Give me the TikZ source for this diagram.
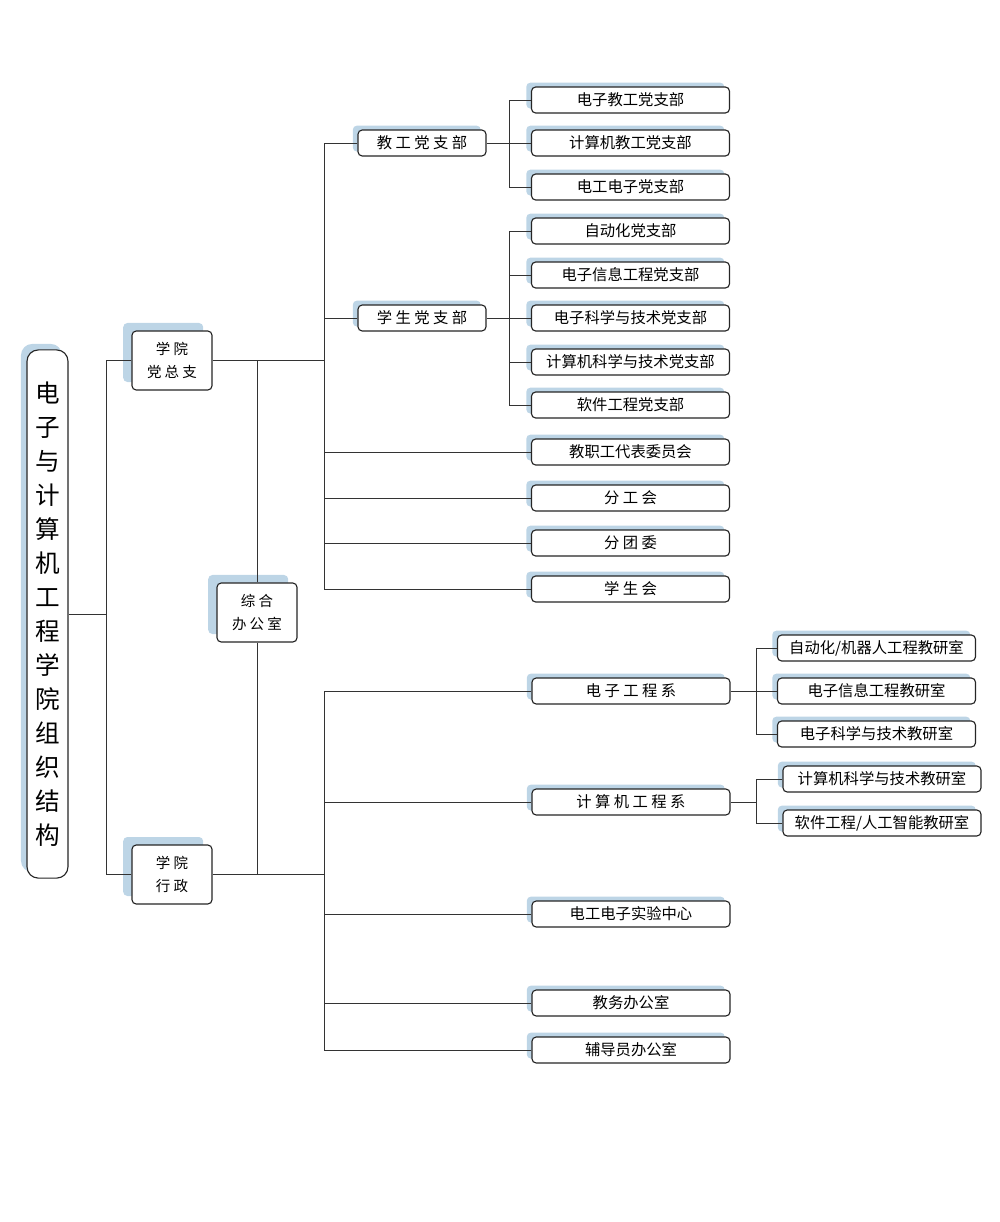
\documentclass[tikz,border=0pt]{standalone}
\usepackage{fontspec}
\setmainfont{Noto Sans CJK SC}
\usetikzlibrary{shadows}
\definecolor{shadeblue}{RGB}{189,213,230}
\definecolor{linegray}{RGB}{51,51,51}
\tikzset{
	base/.style={draw=black!85, line width=0.8pt, rounded corners=3pt, fill=white, inner sep=0pt},
	box/.style={base, minimum width=4.95cm, minimum height=0.65cm, font=\fontsize{10.9}{13}\selectfont,
		general shadow={shadow xshift=-0.13cm, shadow yshift=0.11cm, fill=shadeblue}},
	midbox/.style={box, minimum width=3.2cm},
	tallbox/.style={base, minimum width=2cm, minimum height=1.475cm, align=center, font=\fontsize{10.3}{16.5}\selectfont,
		general shadow={shadow xshift=-0.22cm, shadow yshift=0.2cm, fill=shadeblue}},
	link/.style={draw=linegray, line width=0.7pt}
}
\begin{document}
\begin{tikzpicture}[x=0.025cm, y=-0.025cm]
	\useasboundingbox (0,0) rectangle (999,1222);
	% title
	\node [base, minimum width=1.025cm, minimum height=13.2cm, rounded corners=8pt, align=center,
		font=\fontsize{17.5}{24.2}\selectfont,
		general shadow={shadow xshift=-0.15cm, shadow yshift=0.15cm, fill=shadeblue}] (title) at (47.5,614)
		{电\\子\\与\\计\\算\\机\\工\\程\\学\\院\\组\\织\\结\\构};
	% second column
	\node [tallbox] (dzz) at (172,360.5) {学 院\\党 总 支};
	\node [tallbox] (zh) at (257,612.5) {综 合\\办 公 室};
	\node [tallbox] (xz) at (172,874.5) {学 院\\行 政};
	% party branches
	\node [midbox] (jgdzb) at (422,143) {教 工 党 支 部};
	\node [midbox] (xsdzb) at (422,318) {学 生 党 支 部};
	\node [box] (dzjg) at (630.5,100) {电子教工党支部};
	\node [box] (jsjjg) at (630.5,143) {计算机教工党支部};
	\node [box] (dgdzdzb) at (630.5,187) {电工电子党支部};
	\node [box] (zdh) at (630.5,231) {自动化党支部};
	\node [box] (dzxx) at (630.5,275) {电子信息工程党支部};
	\node [box] (dzkx) at (630.5,318) {电子科学与技术党支部};
	\node [box] (jsjkx) at (630.5,362) {计算机科学与技术党支部};
	\node [box] (rjgc) at (630.5,405) {软件工程党支部};
	\node [box] (jzdb) at (630.5,452) {教职工代表委员会};
	\node [box] (fgh) at (630.5,498) {分 工 会};
	\node [box] (ftw) at (630.5,543) {分 团 委};
	\node [box] (xsh) at (630.5,589) {学 生 会};
	% administration
	\node [box] (dzgcx) at (631,691) {电 子 工 程 系};
	\node [box] (jsjgcx) at (631,802) {计 算 机 工 程 系};
	\node [box] (dgsy) at (631,914) {电工电子实验中心};
	\node [box] (jwbgs) at (631,1003) {教务办公室};
	\node [box] (fdy) at (631,1050) {辅导员办公室};
	\node [box] (zdhjys) at (876.5,648) {自动化/机器人工程教研室};
	\node [box] (dzxxjys) at (876.5,691) {电子信息工程教研室};
	\node [box] (dzkxjys) at (876.5,734) {电子科学与技术教研室};
	\node [box] (jsjkxjys) at (882,779) {计算机科学与技术教研室};
	\node [box] (rjjys) at (882,823) {软件工程/人工智能教研室};
	% connectors
	\draw [link] (title.east) -- ++(38,0) coordinate (t0);
	\draw [link] (dzz.west) -| (t0);
	\draw [link] (xz.west) -| (t0);
	\draw [link] (zh.north) -- (zh.north |- dzz.east);
	\draw [link] (zh.south) -- (zh.south |- xz.east);
	\draw [link] (dzz.east) -- ++(112,0) coordinate (u0);
	\foreach \n in {jgdzb,xsdzb,jzdb,fgh,ftw,xsh}
		\draw [link] (\n.west) -| (u0);
	\draw [link] (xz.east) -- ++(112,0) coordinate (v0);
	\foreach \n in {dzgcx,jsjgcx,dgsy,jwbgs,fdy}
		\draw [link] (\n.west) -| (v0);
	\draw [link] (jgdzb.east) -- ++(23,0) coordinate (j0);
	\foreach \n in {dzjg,jsjjg,dgdzdzb}
		\draw [link] (\n.west) -| (j0);
	\draw [link] (xsdzb.east) -- ++(23,0) coordinate (s0);
	\foreach \n in {zdh,dzxx,dzkx,jsjkx,rjgc}
		\draw [link] (\n.west) -| (s0);
	\draw [link] (dzgcx.east) -- ++(26,0) coordinate (e0);
	\foreach \n in {zdhjys,dzxxjys,dzkxjys}
		\draw [link] (\n.west) -| (e0);
	\draw [link] (jsjgcx.east) -- ++(26,0) coordinate (c0);
	\foreach \n in {jsjkxjys,rjjys}
		\draw [link] (\n.west) -| (c0);
\end{tikzpicture}
\end{document}
